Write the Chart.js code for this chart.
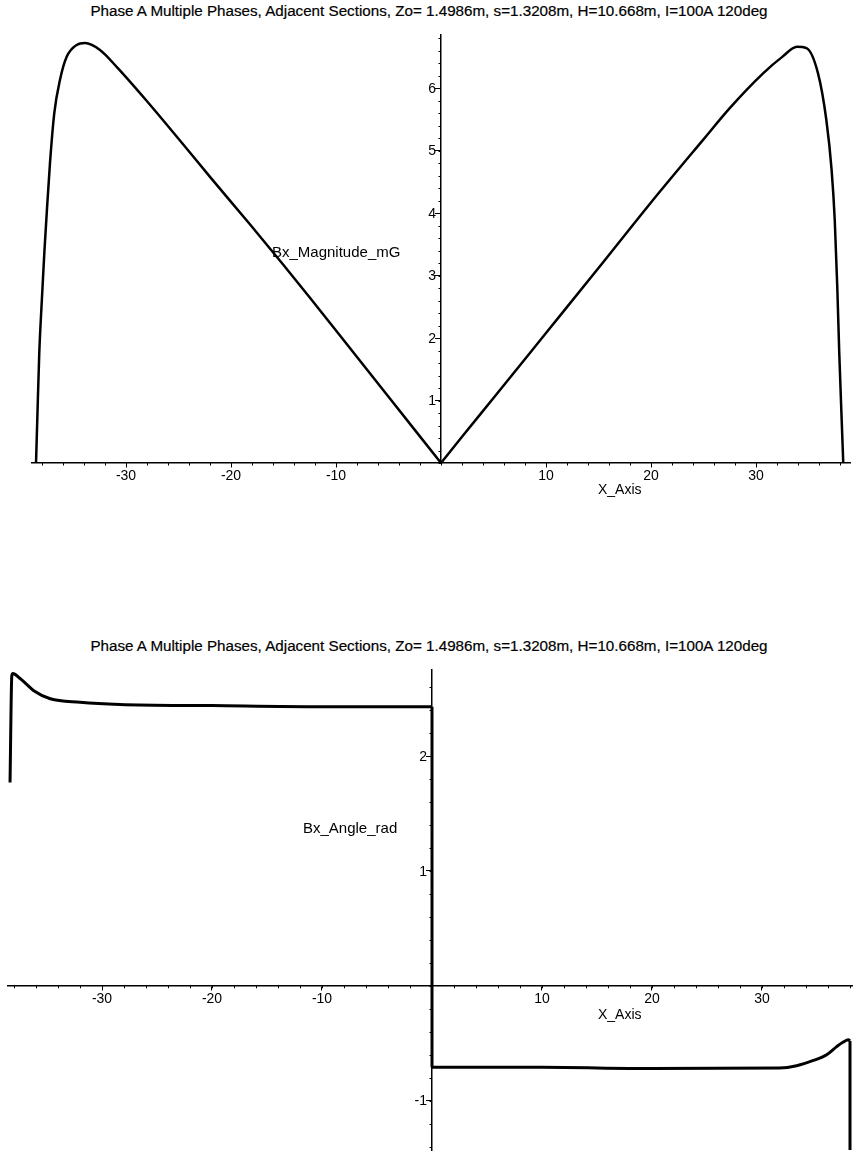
<!DOCTYPE html>
<html lang="en">
<head>
<meta charset="UTF-8" />
<title>Phase A Bx magnitude and angle</title>
<script src="https://cdn.jsdelivr.net/npm/chart.js"></script>
<style>
  html, body { margin: 0; padding: 0; background: #fff; overflow: hidden; }
  body { width: 853px; height: 1156px; position: relative; font-family: "Liberation Sans", Arial, sans-serif; color: #000; }
  .title { position: absolute; left: 0; width: 858px; text-align: center; font-size: 15.2px; white-space: nowrap; -webkit-text-stroke: 0.2px #000; }
  .lbl { position: absolute; font-size: 15px; white-space: nowrap; }
  .box { position: absolute; left: 0; width: 853px; }
</style>
</head>
<body>

<!-- top plot: magnitude -->
<div class="title" style="top:2px">Phase A Multiple Phases, Adjacent Sections, Zo= 1.4986m, s=1.3208m, H=10.668m, I=100A 120deg</div>
<div class="box" style="top:0; height:520px"><canvas id="magChart"></canvas></div>
<div class="lbl" style="left:272px; top:243px">Bx_Magnitude_mG</div>
<div class="lbl" style="left:598px; top:481px; font-size:14px">X_Axis</div>

<!-- bottom plot: angle -->
<div class="title" style="top:637px">Phase A Multiple Phases, Adjacent Sections, Zo= 1.4986m, s=1.3208m, H=10.668m, I=100A 120deg</div>
<div class="box" style="top:640px; height:530px"><canvas id="angChart"></canvas></div>
<div class="lbl" style="left:303px; top:819px">Bx_Angle_rad</div>
<div class="lbl" style="left:598px; top:1006px; font-size:14px">X_Axis</div>

<script>
// Bx magnitude (mG), left and right lobes meeting at x = 0
const magLeftX = [-38.57, -38.45, -38.26, -38.03, -37.78, -37.55, -37.24, -36.83, -36.29, -35.65, -34.7, -33.9,
  -32.48, -30.89, -28, -25, -22, -18.2, -15, -12.5, -10, -5, 0];
const magLeftY = [0, 0.69, 1.76, 2.56, 3.36, 4.0, 4.8, 5.6, 6.13, 6.5, 6.69, 6.72,
  6.61, 6.34, 5.79, 5.19, 4.58, 3.82, 3.17, 2.65, 2.12, 1.06, 0];
const magRightX = [0, 2, 5, 10, 15, 20, 25, 27.5, 30.7, 32.5, 33.9, 34.8, 35.9, 36.7, 37.2, 37.5, 37.74, 37.93, 38.16, 38.31];
const magRightY = [0, 0.42, 1.04, 2.08, 3.12, 4.17, 5.18, 5.68, 6.24, 6.5, 6.66, 6.64, 6.24, 5.49, 4.69, 3.89, 2.82, 1.76, 0.69, 0];

// Bx angle (rad): left branch, jump at x = 0, right branch, drop at the right end
const angLeftX = [-38.36, -38.2, -38.1, -37.5, -36.9, -36.2, -34.7, -32, -28.4, -20, -10, 0];
const angLeftY = [1.77, 2.7, 2.72, 2.68, 2.63, 2.57, 2.5, 2.47, 2.45, 2.44, 2.43, 2.43];
const angRightX = [0, 10, 20, 31.6, 33.15, 34.67, 35.88, 36.79, 37.39, 37.85, 38.0];
const angRightY = [-0.71, -0.71, -0.72, -0.716, -0.696, -0.65, -0.6, -0.53, -0.49, -0.47, -0.48];
const angEndY = -1.43;

const xTickLabels = [-30, -20, -10, 10, 20, 30];
const magTickLabels = [1, 2, 3, 4, 5, 6];
const angTickLabels = [-1, 1, 2];

const toPoints = (xs, ys) => xs.map((x, i) => ({ x: x, y: ys[i] }));
const last = (a) => a[a.length - 1];

// y labels left of the crossing axis, plus small unlabeled ticks
const axisExtras = {
  id: 'axisExtras',
  afterDraw(chart, args, opts) {
    const { ctx, scales: { x, y } } = chart;
    const x0 = x.getPixelForValue(0);
    const y0 = y.getPixelForValue(0);
    ctx.save();
    ctx.strokeStyle = '#000';
    ctx.lineWidth = 1;
    ctx.beginPath();
    for (let v = Math.ceil(x.min / opts.xStep) * opts.xStep; v <= x.max; v += opts.xStep) {
      const px = Math.round(x.getPixelForValue(v)) + 0.5;
      ctx.moveTo(px, y0);
      ctx.lineTo(px, y0 + 2.5);
    }
    for (let v = Math.ceil(y.min / opts.yStep) * opts.yStep; v <= y.max; v += opts.yStep) {
      const py = Math.round(y.getPixelForValue(v)) + 0.5;
      ctx.moveTo(x0 - 2.5, py);
      ctx.lineTo(x0, py);
    }
    ctx.stroke();
    ctx.fillStyle = '#000';
    ctx.font = '14px "Liberation Sans", Arial, sans-serif';
    ctx.textAlign = 'right';
    ctx.textBaseline = 'middle';
    opts.yLabels.forEach(v => {
      ctx.fillText(String(v), x0 - 5, y.getPixelForValue(v) + 1);
    });
    ctx.restore();
  }
};

function lineSet(points, width, smooth) {
  return {
    data: points,
    showLine: true,
    borderColor: '#000',
    borderWidth: width,
    pointRadius: 0,
    tension: 0,
    cubicInterpolationMode: smooth ? 'monotone' : 'default',
    clip: false
  };
}

function makeChart(id, datasets, xr, yr, yTicks, pad) {
  return new Chart(document.getElementById(id), {
    type: 'scatter',
    data: { datasets: datasets },
    options: {
      responsive: true,
      maintainAspectRatio: false,
      animation: false,
      layout: { padding: pad },
      plugins: {
        legend: { display: false },
        tooltip: { enabled: false },
        axisExtras: { xStep: 2, yStep: 0.2, yLabels: yTicks }
      },
      scales: {
        x: {
          type: 'linear',
          min: xr[0],
          max: xr[1],
          position: { y: 0 },
          afterBuildTicks: (s) => { s.ticks = xTickLabels.map(v => ({ value: v })); },
          grid: { display: true, drawOnChartArea: false, drawTicks: true, tickLength: 4, color: '#000', lineWidth: 1 },
          border: { display: true, color: '#000', width: 1.5 },
          ticks: { color: '#000', font: { family: 'Liberation Sans', size: 14 }, padding: 1, maxRotation: 0 }
        },
        y: {
          type: 'linear',
          min: yr[0],
          max: yr[1],
          position: { x: 0 },
          afterBuildTicks: (s) => { s.ticks = yTicks.map(v => ({ value: v })); },
          grid: { display: true, drawOnChartArea: false, drawTicks: true, tickLength: 5, color: '#000', lineWidth: 1 },
          border: { display: true, color: '#000', width: 1.5 },
          ticks: { display: false }
        }
      }
    },
    plugins: [axisExtras]
  });
}

makeChart('magChart', [
  lineSet(toPoints(magLeftX, magLeftY), 2.5, true),
  lineSet(toPoints(magRightX, magRightY), 2.5, true)
], [-39, 39], [0, 6.85], magTickLabels, { left: 31.5, right: 2.5, top: 35, bottom: 57 });

makeChart('angChart', [
  lineSet(toPoints(angLeftX, angLeftY), 3, true),
  lineSet([{ x: last(angLeftX), y: last(angLeftY) }, { x: angRightX[0], y: angRightY[0] }], 3, false),
  lineSet(toPoints(angRightX, angRightY), 3, true),
  lineSet([{ x: last(angRightX), y: last(angRightY) }, { x: last(angRightX), y: angEndY }], 3, false)
], [-38.6, 38.2], [-1.43, 2.75], angTickLabels, { left: 7.4, right: 0.8, top: 30, bottom: 20 });
</script>
</body>
</html>
